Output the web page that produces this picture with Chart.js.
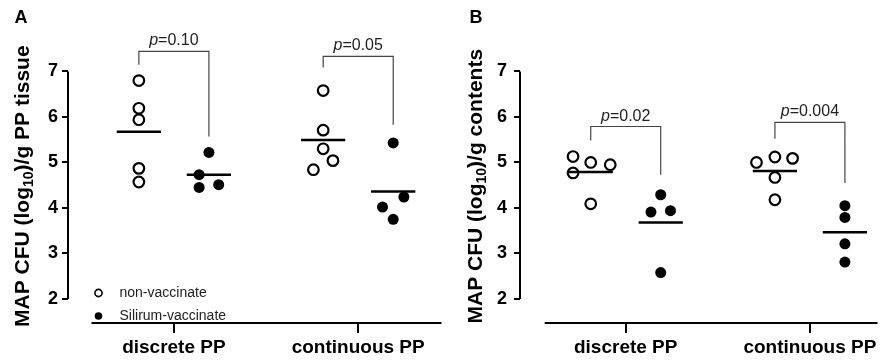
<!DOCTYPE html>
<html>
<head>
<meta charset="utf-8">
<script src="https://cdn.jsdelivr.net/npm/chart.js@4.4.1/dist/chart.umd.min.js"></script>
<style>
body { margin: 0; background: #fff; width: 885px; height: 360px; position: relative; overflow: hidden; }
canvas { position: absolute; top: 0; }
#chartA { left: 0; }
#chartB { left: 440px; }
</style>
</head>
<body>
<canvas id="chartA" width="449" height="360"></canvas>
<canvas id="chartB" width="445" height="360"></canvas>
<script>
// categories and groups
const categories = ['discrete PP', 'continuous PP'];
const groups = ['non-vaccinate', 'Silirum-vaccinate'];

// panel A - PP tissue (log10 CFU/g), one list per category
const tissueNon = [[6.80, 6.19, 5.94, 4.87, 4.57], [6.58, 5.71, 5.30, 5.04, 4.84]];
const tissueVac = [[5.22, 4.73, 4.45, 4.51], [5.43, 4.24, 4.02, 3.75]];
// panel B - PP contents
const contentsNon = [[5.13, 5.00, 4.95, 4.77, 4.09], [5.00, 5.12, 5.09, 4.67, 4.18]];
const contentsVac = [[4.29, 3.91, 3.94, 2.58], [4.05, 3.79, 3.21, 2.81]];

// horizontal scatter of overlapping dots (category units)
const tissueNonJit = [[0, 0, 0, 0, 0], [0, 0, 0, 0.053, -0.053]];
const tissueVacJit = [[0, -0.053, -0.053, 0.053], [0, 0.058, -0.058, 0]];
const contentsNonJit = [[-0.096, 0, 0.106, -0.096, 0], [-0.1, 0, 0.096, 0, 0]];
const contentsVacJit = [[0, -0.053, 0.053, 0], [0, 0, 0, 0]];

const yTicks = [2, 3, 4, 5, 6, 7];

// p values and bracket levels [top, left leg end, right leg end]
const tissueP = ['0.10', '0.05'];
const tissueBrackets = [[7.44, 7.15, 5.57], [7.33, 7.09, 5.83]];
const contentsP = ['0.02', '0.004'];
const contentsBrackets = [[5.79, 5.48, 4.73], [5.88, 5.52, 4.55]];

const GROUP_OFF = 0.19;
const FONT = '"Liberation Sans", Arial, sans-serif';

function points(vals, jit, off) {
    let out = [];
    vals.forEach((list, c) => {
        list.forEach((v, i) => out.push({x: c + off + jit[c][i], y: v}));
    });
    return out;
}

function mean(a) { return a.reduce((s, v) => s + v, 0) / a.length; }

function buildDatasets(non, nonJit, vac, vacJit, brackets) {
    let ds = [];
    ds.push({
        label: groups[0], data: points(non, nonJit, -GROUP_OFF),
        pointRadius: 5.3, pointBorderWidth: 2.2, borderColor: '#000', backgroundColor: '#fff', order: 2
    });
    ds.push({
        label: groups[1], data: points(vac, vacJit, GROUP_OFF),
        pointRadius: 5.5, pointBorderWidth: 0, borderColor: '#000', backgroundColor: '#000', order: 2
    });
    // mean lines
    [[non, -GROUP_OFF], [vac, GROUP_OFF]].forEach(([vals, off]) => {
        vals.forEach((list, c) => {
            let m = mean(list);
            ds.push({
                label: 'mean', data: [{x: c + off - 0.12, y: m}, {x: c + off + 0.12, y: m}],
                showLine: true, pointRadius: 0, borderColor: '#000', borderWidth: 2.5, order: 1
            });
        });
    });
    // significance brackets
    brackets.forEach((b, c) => {
        ds.push({
            label: 'bracket',
            data: [{x: c - GROUP_OFF, y: b[1]}, {x: c - GROUP_OFF, y: b[0]},
                   {x: c + GROUP_OFF, y: b[0]}, {x: c + GROUP_OFF, y: b[2]}],
            showLine: true, pointRadius: 0, borderColor: '#444', borderWidth: 1.2, order: 3
        });
    });
    return ds;
}

const decor = {
    id: 'decor',
    afterDraw(chart, args, o) {
        const ctx = chart.ctx;
        const xs = chart.scales.x, ys = chart.scales.y;
        const area = chart.chartArea;
        ctx.save();
        ctx.fillStyle = '#000';
        ctx.strokeStyle = '#000';
        // detached axis lines
        ctx.lineWidth = 2;
        ctx.beginPath();
        ctx.moveTo(area.left, ys.getPixelForValue(2));
        ctx.lineTo(area.left, ys.getPixelForValue(7));
        ctx.stroke();
        ctx.beginPath();
        ctx.moveTo(xs.getPixelForValue(o.axisStart), area.bottom);
        ctx.lineTo(area.right, area.bottom);
        ctx.stroke();

        // p values
        o.pvals.forEach((p, c) => {
            let cx = xs.getPixelForValue(c);
            let y = ys.getPixelForValue(o.brackets[c][0]) - 6;
            ctx.font = 'italic 16px ' + FONT;
            let w1 = ctx.measureText('p').width;
            ctx.font = '16px ' + FONT;
            let w2 = ctx.measureText('=' + p).width;
            let x0 = cx - (w1 + w2) / 2;
            ctx.fillStyle = '#222';
            ctx.textBaseline = 'alphabetic';
            ctx.textAlign = 'left';
            ctx.font = 'italic 16px ' + FONT;
            ctx.fillText('p', x0, y);
            ctx.font = '16px ' + FONT;
            ctx.fillText('=' + p, x0 + w1, y);
        });

        // y title with subscript
        ctx.fillStyle = '#000';
        ctx.translate(o.titleX, (ys.getPixelForValue(2) + ys.getPixelForValue(7)) / 2 + 1);
        ctx.rotate(-Math.PI / 2);
        let parts = [['MAP CFU (log', 21, 7.5], ['10', 14, 12], [o.titleEnd, 21, 7.5]];
        let total = 0;
        parts.forEach(pt => { ctx.font = 'bold ' + pt[1] + 'px ' + FONT; total += ctx.measureText(pt[0]).width; });
        let x = -total / 2;
        parts.forEach(pt => {
            ctx.font = 'bold ' + pt[1] + 'px ' + FONT;
            ctx.fillText(pt[0], x, pt[2]);
            x += ctx.measureText(pt[0]).width;
        });
        ctx.restore();

        // panel letter
        ctx.save();
        ctx.font = 'bold 18px ' + FONT;
        ctx.textAlign = 'center';
        ctx.textBaseline = 'middle';
        ctx.fillStyle = '#000';
        ctx.fillText(o.letter, o.letterX, 18);

        // legend
        if (o.legend) {
            let lx = xs.getPixelForValue(o.axisStart) + 7;
            let rows = [area.bottom - 30, area.bottom - 7];
            ctx.lineWidth = 1.6;
            ctx.beginPath();
            ctx.arc(lx, rows[0], 3.6, 0, Math.PI * 2);
            ctx.stroke();
            ctx.beginPath();
            ctx.arc(lx, rows[1], 3.8, 0, Math.PI * 2);
            ctx.fill();
            ctx.font = '14px ' + FONT;
            ctx.textAlign = 'left';
            ctx.fillStyle = '#222';
            ctx.fillText(groups[0], lx + 21, rows[0]);
            ctx.fillText(groups[1], lx + 21, rows[1]);
        }
        ctx.restore();
    }
};

function makePanel(id, datasets, cfg) {
    return new Chart(document.getElementById(id), {
        type: 'scatter',
        data: {datasets: datasets},
        plugins: [decor],
        options: {
            responsive: false,
            animation: false,
            devicePixelRatio: 1,
            layout: {padding: {top: 26, left: 0, right: 0, bottom: 0}},
            plugins: {
                legend: {display: false},
                tooltip: {enabled: false},
                decor: cfg
            },
            scales: {
                x: {
                    type: 'linear',
                    min: cfg.xmin,
                    max: cfg.xmax,
                    afterBuildTicks: (s) => { s.ticks = categories.map((c, i) => ({value: i})); },
                    afterFit: (s) => { s.height = 37; },
                    border: {display: false},
                    grid: {drawOnChartArea: false, drawTicks: true, tickLength: 10, lineWidth: 2, color: '#000'},
                    ticks: {
                        callback: (v) => categories[v],
                        color: '#000',
                        padding: 3,
                        maxRotation: 0,
                        font: {family: FONT, size: 19, weight: 'bold'}
                    }
                },
                y: {
                    min: 1.47,
                    max: 8,
                    afterBuildTicks: (s) => { s.ticks = yTicks.map(v => ({value: v})); },
                    afterFit: (s) => { s.width = cfg.yWidth; },
                    border: {display: false},
                    grid: {drawOnChartArea: false, drawTicks: true, tickLength: 6, lineWidth: 2, color: '#000'},
                    ticks: {
                        color: '#000',
                        padding: cfg.tickPad,
                        font: {family: FONT, size: 18, weight: 'bold'}
                    }
                }
            }
        }
    });
}

makePanel('chartA',
    buildDatasets(tissueNon, tissueNonJit, tissueVac, tissueVacJit, tissueBrackets),
    {xmin: -0.5745, xmax: 1.452, yWidth: 68, tickPad: 4, axisStart: -0.447,
     pvals: tissueP, brackets: tissueBrackets, titleX: 21, titleEnd: ')/g PP tissue',
     letter: 'A', letterX: 21, legend: true});

makePanel('chartB',
    buildDatasets(contentsNon, contentsNonJit, contentsVac, contentsVacJit, contentsBrackets),
    {xmin: -0.574, xmax: 1.367, yWidth: 80, tickPad: 7, axisStart: -0.44,
     pvals: contentsP, brackets: contentsBrackets, titleX: 34, titleEnd: ')/g contents',
     letter: 'B', letterX: 36, legend: false});
</script>
</body>
</html>
